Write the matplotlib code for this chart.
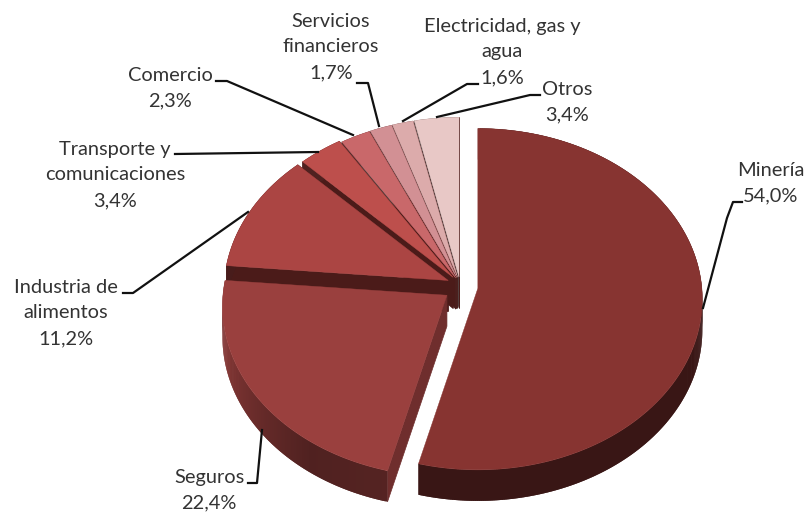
"""3D exploded pie, drawn as polygons in pixel-like axes coordinates."""
import numpy as np
import matplotlib
matplotlib.use("Agg")
import matplotlib.pyplot as plt
from matplotlib.colors import to_rgb

plt.rcParams["font.family"] = ["Lato", "DejaVu Sans"]

labels = ["Minería", "Seguros", "Industria de\nalimentos", "Transporte y\ncomunicaciones",
          "Comercio", "Servicios\nfinancieros", "Electricidad, gas y\nagua", "Otros"]
shares = [54.0, 22.4, 11.2, 3.4, 2.3, 1.7, 1.6, 3.4]
explode = [18, 16, 13, 11, 9, 9, 9, 9]
top_colors = ["#873431", "#9a403e", "#ab4543", "#bd4f4c", "#c9686a", "#d29094", "#dcabab", "#e8c8c6"]

# projected pie
CX, CY = 460, 286
RX, RY, K = 224, 170, 0.064
DEPTH = 31


def project(theta):
    s, c = np.sin(theta), np.cos(theta)
    return RX * s / (1 + K * c), -RY * c / (1 + K * c)


def shade(color, f):
    return tuple(v * f for v in to_rgb(color))


def side_factor(i, deg):
    if i == 1:
        return np.interp(deg, [195, 215, 255], [0.55, 0.52, 0.85])
    return 0.42


fig = plt.figure(figsize=(8.09, 5.14), dpi=100)
ax = fig.add_axes([0, 0, 1, 1])
ax.set_xlim(0, 809)
ax.set_ylim(514, 0)
ax.axis("off")

edges = np.cumsum([0] + shares) * 3.6
# back slices first, Minería last
for i in range(len(shares) - 1, -1, -1):
    a0, a1 = edges[i], edges[i + 1]
    mid = np.radians((a0 + a1) / 2)
    ax0 = CX + explode[i] * np.sin(mid)
    ay0 = CY - explode[i] * np.cos(mid)
    degs = np.linspace(a0, a1, max(int(a1 - a0) * 2, 8))
    xs, ys = project(np.radians(degs))
    xs, ys = xs + ax0, ys + ay0

    # cut faces: Seguros shows its start edge in a lighter red, the back slices a dark gap
    if i == 1:
        ax.fill([ax0, xs[0], xs[0], ax0], [ay0, ys[0], ys[0] + DEPTH, ay0 + DEPTH],
                color=shade(top_colors[1], 0.72), lw=0.5, zorder=2)
    elif i >= 2:
        ax.fill([ax0, xs[0], xs[0], ax0], [ay0, ys[0], ys[0] + DEPTH, ay0 + DEPTH],
                color="#4b1b19" if i <= 3 else "#55403f", lw=0.5, zorder=2)
        ax.fill([ax0, xs[-1], xs[-1], ax0], [ay0, ys[-1], ys[-1] + DEPTH, ay0 + DEPTH],
                color="#4b1b19", lw=0.5, zorder=2)
    # outer rim, overlapping quads so no seams show
    for j in range(len(degs) - 1):
        n = min(j + 2, len(degs) - 1)
        f = side_factor(i, degs[j])
        ax.fill([xs[j], xs[n], xs[n], xs[j]],
                [ys[j], ys[n], ys[n] + DEPTH, ys[j] + DEPTH],
                color=shade(top_colors[i], f), lw=0, zorder=2)
    ax.fill(np.r_[ax0, xs], np.r_[ay0, ys], color=top_colors[i], lw=0.3, zorder=2)

# leader lines
leaders = [
    [(703, 308), (727, 218), (733, 202), (742, 202)],
    [(262, 430), (257, 483), (248, 483)],
    [(248, 212), (133, 293), (123, 293)],
    [(318, 152), (175, 154)],
    [(353, 135), (227, 81), (216, 81)],
    [(379, 126), (368, 83), (357, 83)],
    [(403, 121), (467, 84), (478, 84)],
    [(437, 117), (530, 95), (540, 95)],
]
for pts in leaders:
    px, py = zip(*pts)
    ax.plot(px, py, color="#111111", lw=1.6, zorder=3, solid_joinstyle="round")

# data labels
label_xy = [(771, 183), (209, 490), (66, 313), (115, 175), (170, 88), (331, 47), (502, 52), (567, 102)]
for name, val, (x, y) in zip(labels, shares, label_xy):
    txt = f"{name}\n{val:.1f}%".replace(".", ",")
    ax.text(x, y, txt, ha="center", va="center", fontsize=14.4, color="#333333",
            linespacing=1.62, zorder=4)

fig.savefig("out.png", dpi=100)
